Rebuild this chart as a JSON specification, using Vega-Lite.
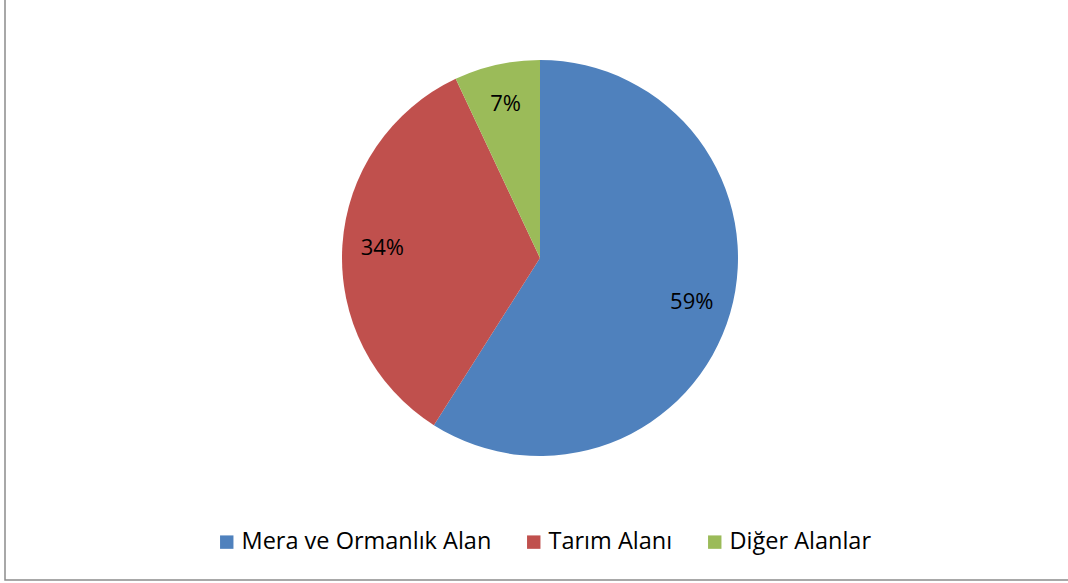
{
  "$schema": "https://vega.github.io/schema/vega-lite/v6.json",
  "width": 1070,
  "height": 644,
  "autosize": {"type": "none"},
  "padding": {"left": 5, "top": -64, "right": -7, "bottom": 3},
  "background": "white",
  "view": {"stroke": "#8c8c8c", "strokeWidth": 1.5, "fill": "white"},
  "config": {
    "view": {"stroke": "#8c8c8c", "strokeWidth": 1.5},
    "font": "Open Sans"
  },
  "data": {
    "values": [
      {"category": "Mera ve Ormanlık Alan", "value": 0.59, "idx": 1},
      {"category": "Tarım Alanı", "value": 0.34, "idx": 2},
      {"category": "Diğer Alanlar", "value": 0.07, "idx": 3}
    ]
  },
  "encoding": {
    "theta": {"field": "value", "type": "quantitative", "stack": true},
    "order": {"field": "idx", "type": "quantitative"},
    "color": {
      "field": "category",
      "type": "nominal",
      "sort": ["Mera ve Ormanlık Alan", "Tarım Alanı", "Diğer Alanlar"],
      "scale": {
        "domain": ["Mera ve Ormanlık Alan", "Tarım Alanı", "Diğer Alanlar"],
        "range": ["#4F81BD", "#C0504D", "#9BBB59"]
      },
      "legend": {
        "orient": "none",
        "legendX": 210,
        "legendY": 594,
        "direction": "horizontal",
        "title": null,
        "symbolType": "square",
        "symbolSize": 180,
        "symbolStrokeWidth": 0,
        "labelFontSize": 23.5,
        "labelFont": "Open Sans",
        "labelColor": "#000000",
        "labelLimit": 500,
        "columnPadding": 30,
        "symbolOffset": 0,
        "labelOffset": 3
      }
    }
  },
  "layer": [
    {"mark": {"type": "arc", "outerRadius": 198}},
    {
      "mark": {"type": "text", "radius": 158, "fontSize": 22, "font": "Open Sans", "color": "#000000"},
      "encoding": {
        "text": {"field": "value", "type": "quantitative", "format": ".0%"},
        "color": {"value": "#000000"}
      }
    }
  ]
}
